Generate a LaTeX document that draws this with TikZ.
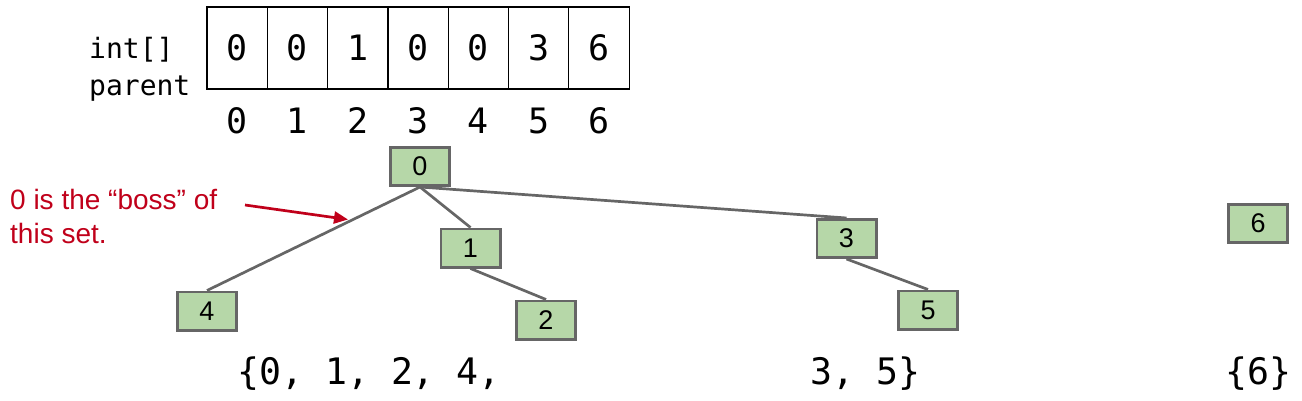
\documentclass[tikz,border=0pt]{standalone}
\usepackage{fontspec}
\setmainfont{Liberation Sans}
\newfontfamily\codefont{DejaVu Sans Mono}
\usetikzlibrary{arrows.meta}
\definecolor{boxgreen}{HTML}{B6D7A8}
\definecolor{boxgray}{HTML}{666666}
\definecolor{notered}{HTML}{C0001A}
\tikzset{
  cell/.style={draw=black, line width=1.2pt, minimum width=60.3pt, minimum height=82pt, inner sep=0pt, font=\codefont\fontsize{35}{40}\selectfont},
  idx/.style={inner sep=0pt, anchor=base, font=\codefont\fontsize{35}{40}\selectfont},
  lbl/.style={inner sep=0pt, anchor=base west, font=\codefont\fontsize{28}{32}\selectfont},
  setlbl/.style={inner sep=0pt, anchor=base west, font=\codefont\fontsize{36.5}{40}\selectfont},
  tnode/.style={draw=boxgray, fill=boxgreen, line width=2.8pt, minimum width=59.2pt, minimum height=38.2pt, inner sep=0pt, font=\fontsize{27}{30}\selectfont},
  edge/.style={draw=boxgray, line width=2.7pt},
  note/.style={inner sep=0pt, anchor=base west, text=notered, font=\fontsize{28}{33}\selectfont},
  notearrow/.style={draw=notered, line width=2.7pt, -{Triangle[length=14pt,width=12pt]}}
}
\begin{document}
\begin{tikzpicture}[x=1pt,y=-1pt]
\useasboundingbox (0,0) rectangle (1302,401);
% array
\foreach \v [count=\i from 0] in {0,0,1,0,0,3,6} {
  \node[cell] (c\i) at ({237.15+60.3*\i},48) {\v};
  \node[idx] (i\i) at ({237.15+60.3*\i},134) {\i};
}
\node[lbl] (intlbl) at (89,59) {int[]};
\node[lbl] (parlbl) at (89,96) {parent};
% tree nodes
\node[tnode] (n0) at (420,166.5) {0};
\node[tnode] (n1) at (470.5,248) {1};
\node[tnode] (n4) at (207,311) {4};
\node[tnode] (n2) at (546,320) {2};
\node[tnode] (n3) at (846.5,238.5) {3};
\node[tnode] (n5) at (928,310) {5};
\node[tnode] (n6) at (1258,223.5) {6};
% edges
\draw[edge] (n0.south) -- (n4.north);
\draw[edge] (n0.south) -- (n1.north);
\draw[edge] (n0.south) -- (n3.north);
\draw[edge] (n1.south) -- (n2.north);
\draw[edge] (n3.south) -- (n5.north);
% note
\node[note] (note1) at (10,210) {0 is the “boss” of};
\node[note] (note2) at (10,243) {this set.};
\coordinate (arrS) at (245,205);
\coordinate (arrE) at (348,219.5);
\draw[notearrow] (arrS) -- (arrE);
% sets
\node[setlbl] (setA) at (237,384) {\{0, 1, 2, 4,};
\node[setlbl] (setB) at (810,384) {3, 5\}};
\node[setlbl] (setC) at (1225,384) {\{6\}};
\end{tikzpicture}
\end{document}
